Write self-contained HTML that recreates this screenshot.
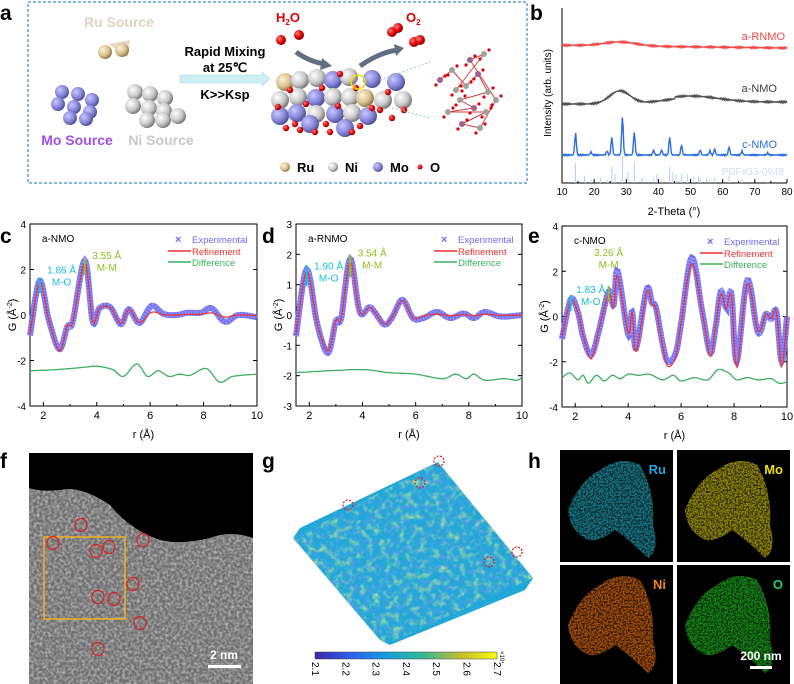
<!DOCTYPE html>
<html><head><meta charset="utf-8"><style>
html,body{margin:0;padding:0;background:#fff}
svg{display:block;font-family:"Liberation Sans",Arial,sans-serif}
</style></head><body>
<svg id="s" width="794" height="684" viewBox="0 0 794 684" xmlns="http://www.w3.org/2000/svg">
<defs>
<radialGradient id="gNi" cx="35%" cy="35%" r="70%"><stop offset="0" stop-color="#fff"/><stop offset="0.6" stop-color="#c8c8c8"/><stop offset="1" stop-color="#707070"/></radialGradient>
<radialGradient id="gMo" cx="35%" cy="35%" r="70%"><stop offset="0" stop-color="#c8c8ff"/><stop offset="0.6" stop-color="#8585d8"/><stop offset="1" stop-color="#4a4a90"/></radialGradient>
<radialGradient id="gRu" cx="35%" cy="35%" r="70%"><stop offset="0" stop-color="#fff3d8"/><stop offset="0.6" stop-color="#d8c090"/><stop offset="1" stop-color="#8a7040"/></radialGradient>
<radialGradient id="gO" cx="35%" cy="35%" r="70%"><stop offset="0" stop-color="#ff8080"/><stop offset="0.6" stop-color="#e00000"/><stop offset="1" stop-color="#800000"/></radialGradient>
<linearGradient id="cb" x1="0" x2="1"><stop offset="0" stop-color="#3e26a8"/><stop offset="0.2" stop-color="#2c62f0"/><stop offset="0.4" stop-color="#14a0d8"/><stop offset="0.6" stop-color="#36bb90"/><stop offset="0.8" stop-color="#c4bc30"/><stop offset="1" stop-color="#f9fb0e"/></linearGradient>
<filter id="noise" x="0" y="0" width="100%" height="100%"><feTurbulence type="fractalNoise" baseFrequency="0.35" numOctaves="2" seed="3"/><feColorMatrix values="0 0 0 0 1  0 0 0 0 1  0 0 0 0 1  0 0 0 1.0 -0.35"/><feComposite in2="SourceGraphic" operator="in"/></filter>
<filter id="dots" x="0" y="0" width="100%" height="100%"><feTurbulence type="fractalNoise" baseFrequency="0.6" numOctaves="2" seed="7"/><feColorMatrix values="0 0 0 0 0  0 0 0 0 0  0 0 0 0 0  0 0 0 -2.5 1.5"/><feComposite in2="SourceGraphic" operator="in"/></filter>
<filter id="surf" x="0" y="0" width="100%" height="100%"><feTurbulence type="fractalNoise" baseFrequency="0.15" numOctaves="3" seed="5"/><feColorMatrix values="0 0 0 0 0.5  0 0 0 0 0.8  0 0 0 0 0.3  0 0 0 2.0 -0.95"/><feComposite in2="SourceGraphic" operator="in"/></filter>
<filter id="surf2" x="0" y="0" width="100%" height="100%"><feTurbulence type="fractalNoise" baseFrequency="0.2" numOctaves="2" seed="11"/><feColorMatrix values="0 0 0 0 0.15  0 0 0 0 0.3  0 0 0 0 0.9  0 0 0 2.0 -0.9"/><feComposite in2="SourceGraphic" operator="in"/></filter>
<clipPath id="cf"><rect x="29" y="453" width="224" height="231"/></clipPath>
</defs>
<g id="root"></g>
</svg>
<script>
const R=document.getElementById('root');let h='';
function T(x,y,t,o){o=o||{};h+=`<text x="${x}" y="${y}" font-size="${o.s||11}" fill="${o.c||'#000'}" text-anchor="${o.a||'start'}" font-weight="${o.w||'normal'}" ${o.t?'transform="'+o.t+'"':''}>${t}</text>`;}
function C(x,y,r,g){h+=`<circle cx="${x}" cy="${y}" r="${r}" fill="url(#${g})"/>`;}
[['a',0,20],['b',530,20],['c',0,243],['d',262,243],['e',528,243],['f',0,468],['g',262,468],['h',528,468]].forEach(l=>T(l[1],l[2],l[0],{s:21,w:'bold'}));
h+=`<rect x="28" y="2" width="499" height="181" fill="none" stroke="#3a8fd8" stroke-width="1.2" stroke-dasharray="3,2"/>`;
T(119,27,'Ru Source',{s:14,w:'bold',c:'#e2d2c0',a:'middle'});
h+=`<path d="M108,44 L130,40 L128,57 Z" fill="#e8dcc8"/>`;C(105,52,7,'gRu');C(122,50,7,'gRu');
[[62,92],[78,94],[92,100],[58,104],[74,107],[90,112],[70,118],[86,119]].forEach(p=>C(p[0],p[1],7,'gMo'));
[[135,92],[150,94],[165,98],[133,106],[149,108],[164,111],[147,120],[163,120],[178,116]].forEach(p=>C(p[0],p[1],8,'gNi'));
T(77,145,'Mo Source',{s:14,w:'bold',c:'#a050e8',a:'middle'});
T(161,145,'Ni Source',{s:14,w:'bold',c:'#c8c8c8',a:'middle'});
h+=`<path d="M180,75 L262,75 L262,72 L270,79 L262,86 L262,83 L180,83 Z" fill="#cdeef2" stroke="#a8dce4" stroke-width="0.6"/>`;
T(225,56,'Rapid Mixing',{s:13,w:'bold',a:'middle'});T(225,72,'at 25℃',{s:13,w:'bold',a:'middle'});T(225,99,'K&gt;&gt;Ksp',{s:13,w:'bold',a:'middle'});
T(276,22,'H<tspan font-size="8" dy="3">2</tspan><tspan dy="-3">O</tspan>',{s:13,w:'bold',c:'#e00000'});
T(406,22,'O<tspan font-size="8" dy="3">2</tspan>',{s:13,w:'bold',c:'#e00000'});
C(281,40,5,'gO');C(299,35,5,'gO');C(392,32,5,'gO');C(398,28,5,'gO');C(414,42,5,'gO');C(420,40,5,'gO');
h+=`<path d="M296,52 Q310,62 325,64" stroke="#607080" stroke-width="5" fill="none"/><path d="M322,58 L332,66 L320,70Z" fill="#607080"/>`;
h+=`<path d="M360,66 Q380,52 398,50" stroke="#607080" stroke-width="5" fill="none"/><path d="M394,44 L404,48 L396,56Z" fill="#607080"/>`;
let cl=[[285,82,'gRu'],[300,80,'gNi'],[317,78,'gNi'],[333,80,'gMo'],[349,77,'gNi'],[372,79,'gMo'],[396,82,'gMo'],[280,100,'gNi'],[298,97,'gNi'],[316,98,'gMo'],[333,97,'gNi'],[350,97,'gNi'],[365,98,'gRu'],[383,100,'gNi'],[403,100,'gNi'],[280,116,'gMo'],[297,113,'gMo'],[316,114,'gNi'],[335,114,'gMo'],[352,113,'gNi'],[368,116,'gMo'],[310,124,'gMo'],[345,128,'gMo']];
cl.forEach(p=>C(p[0],p[1],9,p[2]));
[[278,107],[290,90],[306,104],[322,88],[338,106],[356,88],[372,108],[388,92],[404,110],[295,124],[326,124],[360,126],[330,132],[300,130],[340,74],[380,110],[286,128],[315,132],[352,132],[392,118]].forEach(p=>C(p[0],p[1],3.2,'gO'));
h+=`<circle cx="358" cy="82" r="7" fill="none" stroke="#f0e000" stroke-width="1.5"/>`;
h+=`<path d="M380,80 L430,62 M392,108 L430,118" stroke="#a0c8d0" stroke-dasharray="2,2"/>`;
let cs=[[440,80],[452,70],[466,86],[478,74],[488,92],[460,100],[474,108],[448,112],[486,112],[462,124],[480,128],[496,100],[470,60],[484,54],[456,90]];
cs.forEach((p,i)=>{if(i)h+=`<line x1="${cs[i-1][0]}" y1="${cs[i-1][1]}" x2="${p[0]}" y2="${p[1]}" stroke="#d04040" stroke-width="1"/>`;});
cs.forEach((p,i)=>{h+=`<circle cx="${p[0]}" cy="${p[1]}" r="3" fill="${i%3?'#a0a0a0':'#a06090'}"/>`;h+=`<circle cx="${p[0]+5}" cy="${p[1]-4}" r="1.6" fill="#e00000"/><circle cx="${p[0]-4}" cy="${p[1]+5}" r="1.6" fill="#e00000"/>`;});
C(285,167,5,'gRu');T(297,172,'Ru',{s:13,w:'bold'});C(333,167,5,'gNi');T(345,172,'Ni',{s:13,w:'bold'});C(378,167,5,'gMo');T(390,172,'Mo',{s:13,w:'bold'});C(420,167,2.5,'gO');T(430,172,'O',{s:13,w:'bold'});
h+=`<path d="M562,8 L562,183 L787,183" fill="none" stroke="#000" stroke-width="1"/>`;
for(let v=10;v<=80;v+=10){let x=562+(v-10)/70*225;h+=`<line x1="${x}" y1="183" x2="${x}" y2="179" stroke="#000"/>`;T(x,195,v,{s:10,a:'middle'});if(v<80){h+=`<line x1="${x+16}" y1="183" x2="${x+16}" y2="181" stroke="#000"/>`;}}
T(674,215,'2-Theta (°)',{s:11,a:'middle'});
T(551,93,'Intensity (arb. units)',{s:10,a:'middle',t:'rotate(-90 551 93)'});
function bx(v){return 562+(v-10)/70*225;}
function xrd(base,f,col,n){let d='';for(let v=10;v<=80;v+=0.25){let y=base-f(v)+(Math.sin(v*37)*n);d+=(d?'L':'M')+bx(v).toFixed(1)+','+y.toFixed(1);}h+=`<path d="${d}" fill="none" stroke="${col}" stroke-width="1.4"/>`;}
xrd(48,v=>4*Math.exp(-Math.pow((v-28)/7,2))+(80-v)*0.04,'#f04848',0.8);
xrd(104,v=>13*Math.exp(-Math.pow((v-28)/4.5,2))+6*Math.exp(-Math.pow((v-50)/12,2))+(v>45?2:0),'#505050',0.8);
let pk=[[14.2,22],[19,3],[24,4],[25.5,18],[28.8,39],[32.5,23],[38.5,5],[41,5],[43.5,18],[47.2,10],[53,5],[56,4],[57.5,6],[62,8],[66,4],[74,2]];
xrd(155,v=>{let s=0;pk.forEach(p=>s+=p[1]*Math.exp(-Math.pow((v-p[0])/0.35,2)));return s;},'#2a6ee0',0.6);
pk.concat([[17,8],[22,6],[26.5,10],[30.5,12],[35,6],[39.5,10],[44.5,12],[45.5,10],[49,9],[51,7],[52.5,8],[55,5]]).forEach(p=>{let x=bx(p[0]);h+=`<line x1="${x}" y1="183" x2="${x}" y2="${183-Math.min(p[1],30)*0.9}" stroke="#b8d0f0" stroke-width="1"/>`;});
T(785,40,'a-RNMO',{s:11,a:'end',c:'#f04848'});T(777,92,'a-NMO',{s:11,a:'end',c:'#404040'});T(777,148,'c-NMO',{s:11,a:'end',c:'#2a6ee0'});T(784,175,'PDF#33-0948',{s:10,a:'end',c:'#d0e0f4'});
function spline(pts,X,Y){let d='';for(let i=0;i<pts.length-1;i++){let p0=pts[Math.max(i-1,0)],p1=pts[i],p2=pts[i+1],p3=pts[Math.min(i+2,pts.length-1)];for(let t=0;t<=1;t+=0.1){let t2=t*t,t3=t2*t;let f=(a,b,c,e)=>0.5*((2*b)+(-a+c)*t+(2*a-5*b+4*c-e)*t2+(-a+3*b-3*c+e)*t3);let x=f(p0[0],p1[0],p2[0],p3[0]),y=f(p0[1],p1[1],p2[1],p3[1]);d+=(d?'L':'M')+X(x).toFixed(1)+','+Y(y).toFixed(1);}}return d;}
function panel(L,Rr,top,bot,ymin,ymax,ystep,name,exp,ref,dif,ann){
 let X=r=>L+(r-1.5)/8.5*(Rr-L),Y=g=>bot-(g-ymin)/(ymax-ymin)*(bot-top);
 h+=`<rect x="${L}" y="${top}" width="${Rr-L}" height="${bot-top}" fill="none" stroke="#000" stroke-width="1"/>`;
 for(let r=2;r<=10;r+=2){h+=`<line x1="${X(r)}" y1="${bot}" x2="${X(r)}" y2="${bot-4}" stroke="#000"/>`;T(X(r),bot+13,r,{s:11,a:'middle'});if(r<10)h+=`<line x1="${X(r+1)}" y1="${bot}" x2="${X(r+1)}" y2="${bot-2}" stroke="#000"/>`;}
 for(let g=ymin;g<=ymax;g+=ystep){h+=`<line x1="${L}" y1="${Y(g)}" x2="${L+4}" y2="${Y(g)}" stroke="#000"/><line x1="${Rr}" y1="${Y(g)}" x2="${Rr-4}" y2="${Y(g)}" stroke="#000"/>`;T(L-4,Y(g)+4,g,{s:10,a:'end'});}
 T((L+Rr)/2,bot+32,'r (Å)',{s:11,a:'middle'});
 let yc=(top+bot)/2;T(L-14,yc,'G (Å<tspan font-size="7" dy="-4">-2</tspan><tspan dy="4">)</tspan>',{s:11,a:'middle',t:`rotate(-90 ${L-14} ${yc})`});
 h+=`<path d="${spline(exp,X,Y)}" fill="none" stroke="#5a5af0" stroke-width="6" stroke-opacity="0.85"/>`;
 h+=`<path d="${spline(exp,X,Y)}" fill="none" stroke="#9a9aff" stroke-width="5" stroke-dasharray="1,2"/>`;
 h+=`<path d="${spline(ref,X,Y)}" fill="none" stroke="#f03030" stroke-width="1.2"/>`;
 h+=`<path d="${spline(dif,X,Y)}" fill="none" stroke="#3cb060" stroke-width="1.3"/>`;
 T(L+12,top+18,name,{s:10});
 h+=`<text x="${L+145}" y="${top+19}" font-size="11" fill="#6c6cf4" font-weight="bold">×</text>`;T(L+162,top+19,'Experimental',{s:9.5,c:'#6c6cf4'});
 h+=`<line x1="${L+138}" y1="${top+27}" x2="${L+161}" y2="${top+27}" stroke="#f03030" stroke-width="1.5"/>`;T(L+162,top+31,'Refinement',{s:9.5,c:'#f03030'});
 h+=`<line x1="${L+138}" y1="${top+38}" x2="${L+161}" y2="${top+38}" stroke="#3cb060" stroke-width="1.5"/>`;T(L+162,top+42,'Difference',{s:9.5,c:'#3cb060'});
 ann.forEach(a=>{h+=`<line x1="${X(a[0])}" y1="${Y(a[1]+0.35)}" x2="${X(a[0])}" y2="${Y(a[1]-0.35)}" stroke="${a[2]}" stroke-width="2"/>`;T(X(a[0])+a[5],Y(a[1])+a[6],a[3],{s:10,c:a[2],a:'middle'});T(X(a[0])+a[5],Y(a[1])+a[6]+12,a[4],{s:10,c:a[2],a:'middle'});});
}
let cE=[[1.5,-0.9],[1.86,1.5],[2.2,-0.2],[2.6,-1.5],[2.9,-0.5],[3.1,-0.3],[3.55,2.4],[3.85,-0.3],[4.1,0.3],[4.5,0.35],[4.9,-0.4],[5.2,0.25],[5.6,-0.35],[6.05,0.4],[6.5,0.05],[7.0,0.0],[7.4,0.1],[7.9,0.1],[8.3,0.3],[8.8,-0.3],[9.3,0],[10,-0.1]];
let cR=cE.map(p=>[p[0],p[0]>6?p[1]*0.3:p[1]*(p[1]<-1?1.05:0.95)]);
let cD=[[1.5,-2.45],[2.5,-2.4],[3.5,-2.3],[4,-2.25],[4.6,-2.4],[5,-2.7],[5.5,-2.15],[5.9,-2.7],[6.3,-2.45],[6.7,-2.7],[7.1,-2.6],[7.5,-2.65],[8.1,-2.35],[8.6,-2.95],[9.1,-2.7],[10,-2.6]];
panel(30,257,224,406,-4,4,2,'a-NMO',cE,cR,cD,[[1.86,1.3,'#18c0d8','1.86 Å','M-O',22,-12],[3.55,2.1,'#90c020','3.55 Å','M-M',22,-8]]);
let dE=[[1.5,-0.7],[1.9,1.5],[2.3,-0.3],[2.7,-1.25],[3.0,-0.2],[3.2,-0.1],[3.54,1.85],[3.9,0.1],[4.3,0.25],[4.8,-0.3],[5.1,-0.1],[5.5,0.5],[5.9,-0.1],[6.3,-0.1],[6.8,0.1],[7.3,-0.1],[7.8,0.05],[8.2,-0.1],[8.6,0.1],[9.2,-0.05],[10,0]];
let dR=dE.map(p=>[p[0],p[0]>6?p[1]*0.3:p[1]*0.95]);
let dD=[[1.5,-1.9],[2.5,-1.85],[4,-1.8],[5,-1.9],[6,-1.95],[7,-2.1],[7.5,-1.95],[7.9,-2.1],[8.2,-1.95],[8.6,-2.15],[9.3,-2.1],[9.8,-2.15],[10,-2.05]];
panel(296,522,224,406,-3,3,1,'a-RNMO',dE,dR,dD,[[1.9,1.3,'#18c0d8','1.90 Å','M-O',22,-6],[3.54,1.6,'#90c020','3.54 Å','M-M',22,-10]]);
let eE=[[1.5,-1.0],[1.83,0.75],[2.1,0.2],[2.3,-0.9],[2.6,-1.7],[2.9,-0.6],[3.26,1.1],[3.45,0.5],[3.6,2.0],[4.0,-0.8],[4.15,0.2],[4.3,-1.4],[4.7,1.2],[4.9,0.6],[5.05,0.4],[5.3,-1.2],[5.5,-2.0],[5.8,-1.6],[6.0,-0.3],[6.4,2.6],[6.8,0.2],[7.1,-1.6],[7.3,-0.5],[7.5,1.1],[7.7,0.4],[7.9,1.0],[8.1,-2.0],[8.5,1.6],[8.9,-0.7],[9.2,0.1],[9.4,-0.1],[9.6,0.2],[9.8,-2.0],[10,0.0]];
let eR=eE.map(p=>[p[0],p[1]*(p[1]<-1?1.1:0.9)]);
let eD=[[1.5,-2.7],[1.8,-2.5],[2.1,-2.8],[2.3,-2.6],[2.5,-2.95],[2.8,-2.6],[3.1,-2.85],[3.4,-2.6],[3.7,-2.75],[4,-2.55],[4.4,-2.6],[4.8,-2.55],[5.3,-2.8],[5.7,-2.6],[6,-2.85],[6.5,-2.7],[7,-2.8],[7.4,-2.35],[7.8,-2.5],[8.1,-2.8],[8.5,-2.7],[8.9,-2.8],[9.4,-2.75],[9.7,-2.95],[10,-2.9]];
panel(562,787,226,407,-4,4,2,'c-NMO',eE,eR,eD,[[1.83,0.6,'#18c0d8','1.83 Å','M-O',20,-10],[3.26,1.0,'#90c020','3.26 Å','M-M',0,-38]]);
h+=`<g clip-path="url(#cf)"><rect x="29" y="453" width="224" height="231" fill="#6e6e6e"/><rect x="29" y="453" width="224" height="231" fill="#a0a0a0" filter="url(#noise)"/><path d="M29,453 L253,453 L253,538 Q230,530 210,538 Q180,545 160,540 Q130,530 110,505 Q80,485 60,490 Q40,492 29,488 Z" fill="#000"/></g>`;
h+=`<rect x="44" y="537" width="81" height="82" fill="none" stroke="#f0b020" stroke-width="1.5"/>`;
[[81,525],[53,543],[96,551],[109,547],[143,540],[133,584],[98,597],[114,599],[140,623],[98,649]].forEach(p=>h+=`<ellipse cx="${p[0]}" cy="${p[1]}" rx="6" ry="6.5" fill="none" stroke="#e02020" stroke-width="1.2"/>`);
T(224,659,'2 nm',{s:12,w:'bold',c:'#fff',a:'middle'});h+=`<rect x="208" y="665" width="33" height="3" fill="#fff"/>`;
h+=`<path d="M293,538 L300,528 L438,462 L533,578 L525,590 L390,645 L380,640 Z" fill="#20a8d8"/>`;
h+=`<path d="M293,538 L438,462 L533,578 L385,645 Z" fill="#fff" filter="url(#surf2)"/>`;
h+=`<path d="M293,538 L438,462 L533,578 L385,645 Z" fill="#fff" filter="url(#surf)"/>`;
[[348,505],[420,483],[439,461],[489,562],[517,552]].forEach(p=>h+=`<circle cx="${p[0]}" cy="${p[1]}" r="5" fill="none" stroke="#e02020" stroke-width="1.3" stroke-dasharray="2,1.5"/>`);
h+=`<rect x="315" y="652" width="182" height="7" fill="url(#cb)" stroke="#444" stroke-width="0.5"/>`;
['2.1','2.2','2.3','2.4','2.5','2.6','2.7'].forEach((t,i)=>{let x=315+i*30.3;T(x-3,662,t,{s:10,t:`rotate(90 ${x-3} 662)`});});
T(500,651,'×10⁴',{s:6,t:'rotate(90 500 651)'});
function ep(x,y,col,lab,lc){h+=`<rect x="${x}" y="${y}" width="113" height="${y>500?119:112}" fill="#000"/>`;
let p=`M${x+8},${y+60} Q${x+20},${y+30} ${x+40},${y+20} Q${x+60},${y+5} ${x+80},${y+15} Q${x+95},${y+40} ${x+93},${y+75} Q${x+100},${y+100} ${x+88},${y+108} Q${x+70},${y+90} ${x+55},${y+80} Q${x+35},${y+95} ${x+25},${y+88} Q${x+10},${y+80} ${x+8},${y+60}Z`;
h+=`<path d="${p}" fill="${col}" opacity="0.9"/><path d="${p}" fill="#000" filter="url(#dots)"/>`;
T(x+106,y+24,lab,{s:13,w:'bold',c:lc,a:'end'});}
ep(560,450,'#1a8090','Ru','#2aa0e0');ep(677,450,'#9a9010','Mo','#f0e000');ep(560,565,'#b05410','Ni','#f08a20');ep(677,565,'#189018','O','#20d060');
T(761,660,'200 nm',{s:12,w:'bold',c:'#fff',a:'middle'});h+=`<rect x="750" y="666" width="22" height="3" fill="#fff"/>`;
R.innerHTML=h;
</script>
</body></html>
